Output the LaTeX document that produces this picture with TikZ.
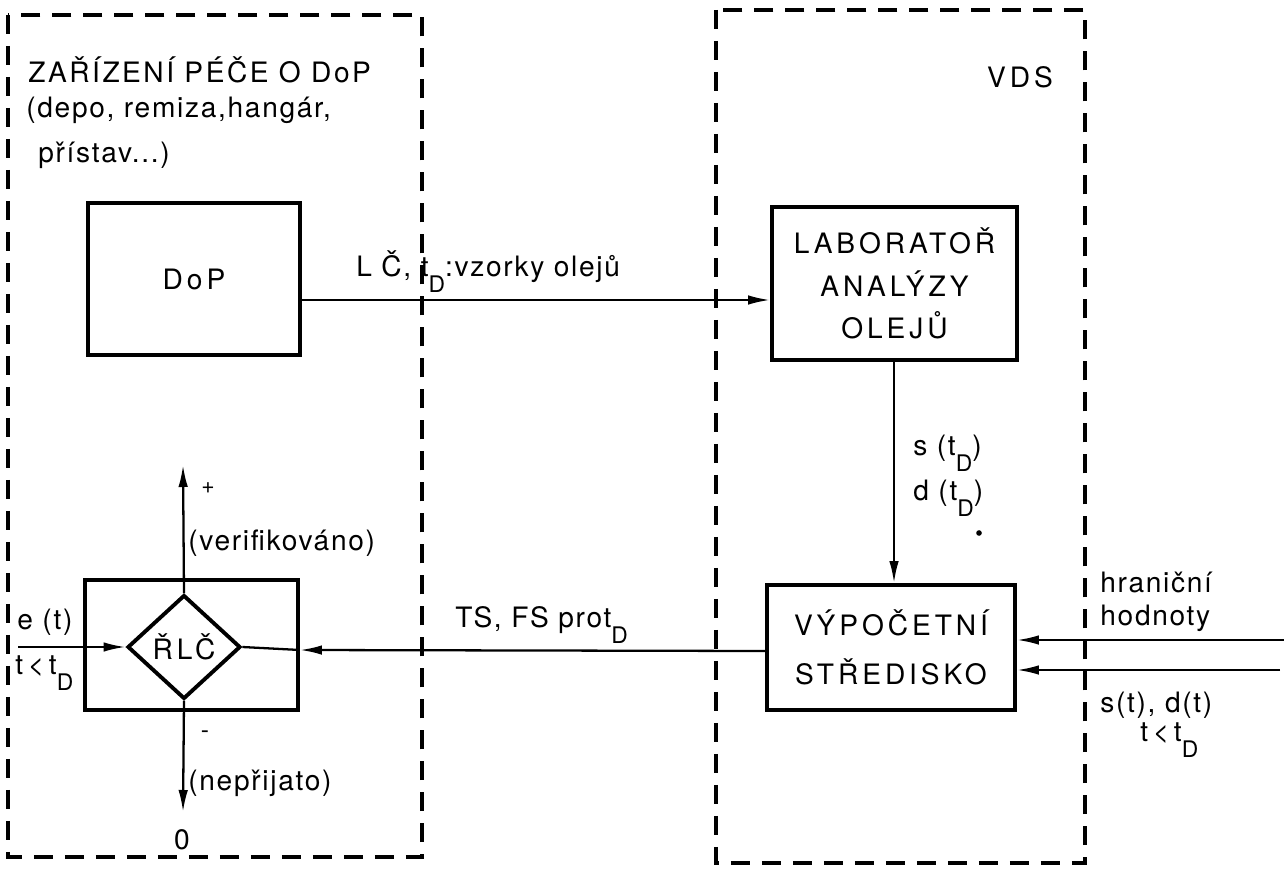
\documentclass[tikz,border=0pt]{standalone}
\usepackage{fontspec}
\setmainfont[LetterSpace=6]{TeX Gyre Heros}
\newfontfamily\boxfont[LetterSpace=14]{TeX Gyre Heros}
\usetikzlibrary{arrows.meta,shapes.geometric}
\newcommand\subD{\raisebox{-9pt}{\fontsize{13pt}{13pt}\selectfont D}}
\begin{document}
\begin{tikzpicture}[x=0.02cm,y=-0.02cm,
  font=\fontsize{16pt}{19pt}\selectfont,
  dashbox/.style={line width=2.6pt, dash pattern=on 0.38cm off 0.24cm},
  blockbox/.style={draw, line width=2.2pt, inner sep=0pt, align=center},
  conn/.style={line width=1.3pt},
  arr/.style={conn, -{Latex[length=0.44cm,width=0.19cm]}},
  lbl/.style={inner sep=0pt, anchor=west},
  ctr/.style={inner sep=0pt},
]
\useasboundingbox (0,0) rectangle (1284,874);
% dashed enclosures
\draw[dashbox] (8,15) rectangle (422,857);
\draw[dashbox] (716,10) rectangle (1085,863);

% titles
\node[lbl] (t1) at (28,70) {\addfontfeature{LetterSpace=9}ZAŘÍZENÍ PÉČE O DoP};
\node[lbl] (t2) at (26,110) {(depo, remiza,hangár,};
\node[lbl] (t3) at (38,155) {přístav...)};
\node[ctr] (vds) at (1020,77) {\boxfont VDS};

% blocks
\node[blockbox, minimum width=4.24cm, minimum height=3.04cm] (dop) at (194,279) {\boxfont DoP};
\node[blockbox, minimum width=4.9cm, minimum height=3.06cm,
      font=\fontsize{16pt}{24pt}\selectfont] (lab) at (894.5,283.5)
      {\boxfont LABORATOŘ\\\boxfont ANALÝZY\\\boxfont OLEJŮ};
\node[blockbox, minimum width=4.96cm, minimum height=2.5cm,
      font=\fontsize{16pt}{28pt}\selectfont] (vs) at (891,647.5)
      {\boxfont VÝPOČETNÍ\\\boxfont STŘEDISKO};
\node[blockbox, minimum width=4.26cm, minimum height=2.6cm] (rlcbox) at (191.5,645) {};
\node[draw, line width=2.2pt, shape=diamond, inner sep=0pt,
      minimum width=2.26cm, minimum height=2.08cm] (dia) at (184,647) {\boxfont ŘLČ};

% free ends
\coordinate (ein) at (18,647);
\coordinate (up) at (183,465);
\coordinate (down) at (183,812);
\coordinate (in1) at (1284,640);
\coordinate (in2) at (1280,670);

% connectors
\draw[arr] (dop.east |- 0,300) -- (lab.west |- 0,300);
\draw[arr] (lab.south -| 894,0) -- (vs.north -| 894,0);
\draw[arr] (vs.west |- 0,651) -- (rlcbox.east |- 0,650);
\draw[conn] (rlcbox.east |- 0,650) -- (dia.east);
\draw[arr] (ein) -- (dia.west);
\draw[arr] (dia.north) -- (up);
\draw[arr] (dia.south) -- (down);
\draw[arr] (in1) -- (vs.east |- in1);
\draw[arr] (in2) -- (vs.east |- in2);

% labels
\node[lbl] (l1) at (356,272) {L Č, t\subD:vzorky olejů};
\node[lbl] (l2) at (913,453) {s (t\subD)};
\node[lbl] (l3) at (913,498) {d (t\subD)};
\fill (979,533) circle[radius=1.6pt];
\node[lbl] (l4) at (1100,582) {hraniční};
\node[lbl] (l5) at (1100,618) {hodnoty};
\node[lbl] (l6) at (1100,705) {s(t), d(t)};
\node[lbl] (l7) at (1140,740) {t\,<\,t\subD};
\node[lbl] (l8) at (455,625) {TS, FS prot\subD};
\node[lbl] (l9) at (17,622) {e (t)};
\node[lbl] (l10) at (15,673) {t\,<\,t\subD};
\node[ctr, font=\fontsize{13pt}{13pt}\selectfont] (plus) at (208,488) {+};
\node[lbl] (l11) at (188,543) {(verifikováno)};
\node[ctr, font=\fontsize{14pt}{14pt}\selectfont] (minus) at (205,735) {-};
\node[lbl] (l12) at (188,783) {(nepřijato)};
\node[ctr] (zero) at (182,840) {0};
\end{tikzpicture}
\end{document}
